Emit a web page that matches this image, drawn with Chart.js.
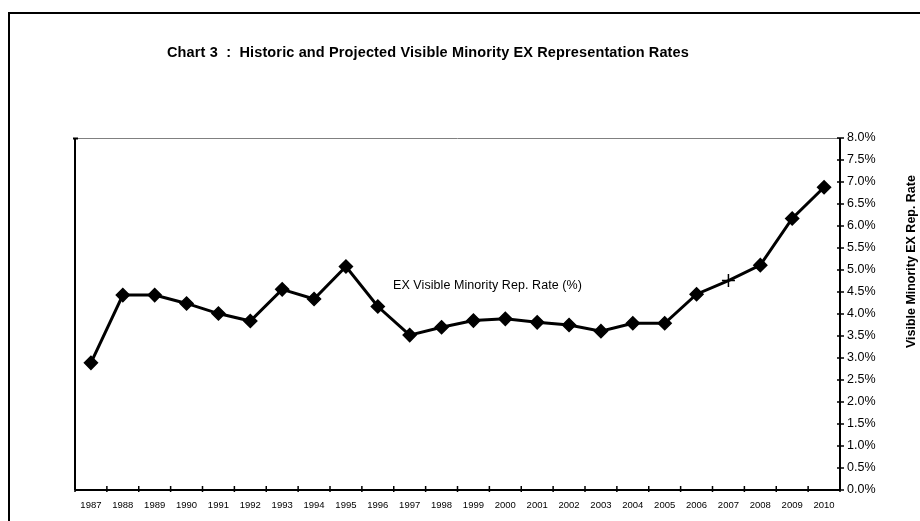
<!DOCTYPE html>
<html>
<head>
<meta charset="utf-8">
<script src="https://cdn.jsdelivr.net/npm/chart.js@4/dist/chart.umd.min.js"></script>
<style>
html,body{margin:0;padding:0;background:#fff;}
#wrap{width:920px;height:521px;position:relative;}
</style>
</head>
<body>
<div id="wrap"><canvas id="c" width="920" height="521"></canvas></div>
<script>
const years = ["1987","1988","1989","1990","1991","1992","1993","1994","1995","1996","1997","1998","1999","2000","2001","2002","2003","2004","2005","2006","2007","2008","2009","2010"];
const repRate = [2.89,4.43,4.43,4.24,4.01,3.84,4.56,4.34,5.08,4.17,3.52,3.70,3.85,3.89,3.81,3.75,3.61,3.79,3.79,4.45,4.76,5.11,6.17,6.88];
const pointStyles = years.map(y => y === "2007" ? "cross" : "rectRot");
const yTicks = [0,0.5,1,1.5,2,2.5,3,3.5,4,4.5,5,5.5,6,6.5,7,7.5,8];
const chartTitle = "Chart 3  :  Historic and Projected Visible Minority EX Representation Rates";
const axisTitle = "Visible Minority EX Rep. Rate";
const seriesLabel = "EX Visible Minority Rep. Rate (%)";

const FONT = "'Liberation Sans', Arial, sans-serif";

function fitText(ctx, text, x, y, targetWidth) {
  ctx.letterSpacing = '0px';
  const w = ctx.measureText(text).width;
  const ls = (targetWidth - w) / Math.max(1, text.length - 1);
  ctx.letterSpacing = ls.toFixed(2) + 'px';
  ctx.fillText(text, x, y);
  ctx.letterSpacing = '0px';
}

const decor = {
  id: 'decor',
  beforeDraw(chart) {
    const ctx = chart.ctx;
    const a = chart.chartArea;
    ctx.save();
    ctx.fillStyle = '#fff';
    ctx.fillRect(0,0,chart.width,chart.height);
    ctx.strokeStyle = '#000';
    ctx.lineWidth = 2;
    ctx.beginPath();
    ctx.moveTo(9, chart.height + 2);
    ctx.lineTo(9, 13);
    ctx.lineTo(chart.width + 2, 13);
    ctx.stroke();
    ctx.strokeStyle = '#808080';
    ctx.lineWidth = 1;
    ctx.beginPath();
    ctx.moveTo(a.left, a.top + 0.5);
    ctx.lineTo(a.right, a.top + 0.5);
    ctx.stroke();
    ctx.strokeStyle = '#000';
    ctx.lineWidth = 2;
    ctx.beginPath();
    ctx.moveTo(a.left, a.top);
    ctx.lineTo(a.left, a.bottom);
    ctx.moveTo(a.left - 2, a.top + 0.5);
    ctx.lineTo(a.left + 3, a.top + 0.5);
    ctx.stroke();
    ctx.restore();
  },
  afterDraw(chart) {
    const ctx = chart.ctx;
    const a = chart.chartArea;
    const xs = chart.scales.x, ys = chart.scales.y;
    ctx.save();
    ctx.strokeStyle = '#000';
    ctx.lineWidth = 1.5;
    ctx.beginPath();
    for (let i = 0; i <= years.length; i++) {
      const p = xs.getPixelForValue(i - 0.5);
      ctx.moveTo(p, a.bottom - 4);
      ctx.lineTo(p, a.bottom + 2);
    }
    for (const v of yTicks) {
      const p = ys.getPixelForValue(v);
      ctx.moveTo(a.right - 3, p);
      ctx.lineTo(a.right + 4, p);
    }
    ctx.stroke();
    ctx.lineWidth = 2;
    ctx.beginPath();
    ctx.moveTo(a.left, a.bottom);
    ctx.lineTo(a.right, a.bottom);
    ctx.moveTo(a.right, a.top);
    ctx.lineTo(a.right, a.bottom);
    ctx.stroke();
    ctx.fillStyle = '#000';
    ctx.font = 'bold 14.5px ' + FONT;
    ctx.textAlign = 'left';
    ctx.textBaseline = 'middle';
    fitText(ctx, chartTitle, 167, 53, 522);
    ctx.font = '12.5px ' + FONT;
    fitText(ctx, seriesLabel, 393, 286, 189);
    ctx.font = 'bold 12.5px ' + FONT;
    ctx.translate(912, 262);
    ctx.rotate(-Math.PI/2);
    fitText(ctx, axisTitle, -86, 0, 173);
    ctx.restore();
  }
};

new Chart(document.getElementById('c'), {
  type: 'line',
  data: {
    labels: years,
    datasets: [{
      label: seriesLabel,
      data: repRate,
      borderColor: '#000',
      backgroundColor: '#000',
      borderWidth: 3,
      pointStyle: pointStyles,
      pointRadius: 6.5,
      pointBorderWidth: 1.5,
      pointBorderColor: '#000',
      pointBackgroundColor: '#000',
      tension: 0
    }]
  },
  options: {
    responsive: false,
    animation: false,
    devicePixelRatio: 1,
    layout: { padding: { left: 75, top: 138, right: 0, bottom: 0 } },
    plugins: { legend: { display: false }, title: { display: false }, tooltip: { enabled: false } },
    scales: {
      x: {
        type: 'category',
        offset: true,
        grid: { display: false, drawTicks: false },
        border: { display: false },
        ticks: { color: '#000', font: { family: FONT, size: 9.5 }, padding: 10, maxRotation: 0, autoSkip: false },
        afterFit(s) { s.height = 31; }
      },
      y: {
        position: 'right',
        min: 0, max: 8,
        grid: { display: false, drawTicks: false },
        border: { display: false },
        afterBuildTicks(s) { s.ticks = yTicks.map(v => ({ value: v })); },
        ticks: {
          color: '#000',
          font: { family: FONT, size: 12.5 },
          padding: 7,
          callback: v => Number(v).toFixed(1) + '%'
        },
        afterFit(s) { s.width = 80; }
      }
    }
  },
  plugins: [decor]
});
</script>
</body>
</html>
